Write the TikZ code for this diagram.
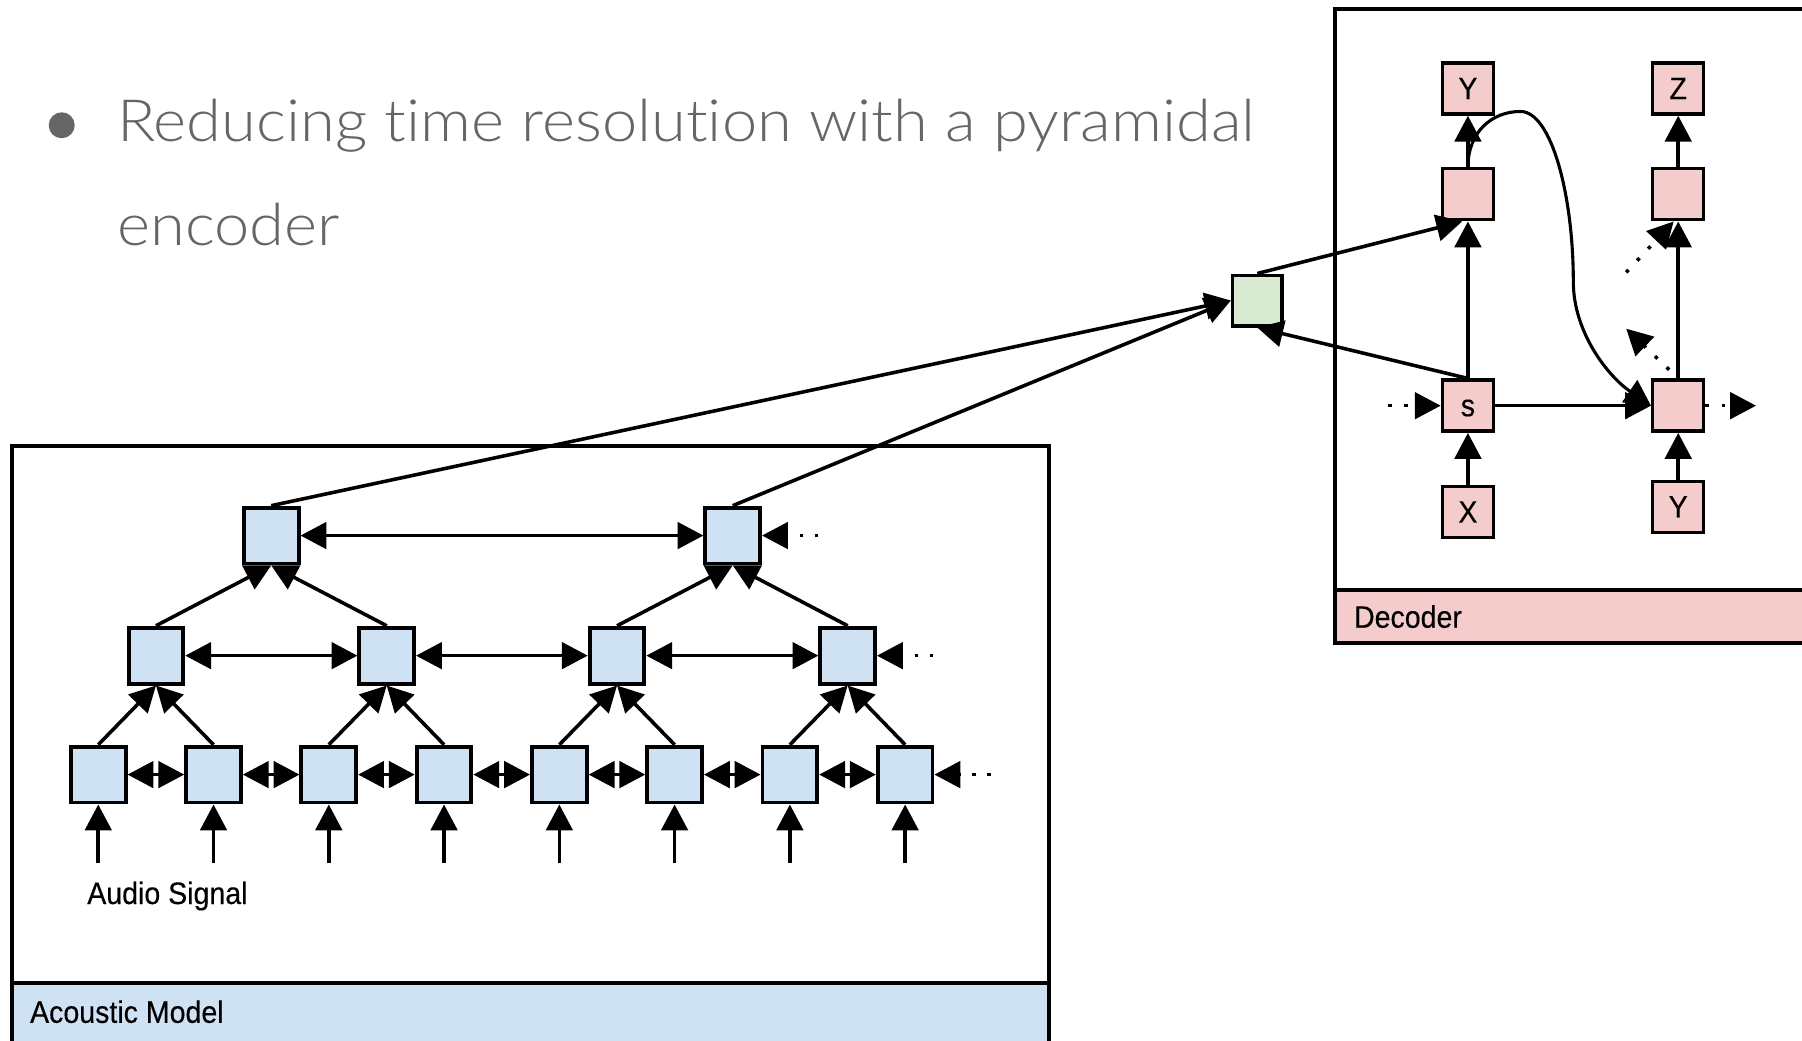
\documentclass[tikz,border=0pt]{standalone}
\usepackage{fontspec}
\usepackage{graphicx}
\usetikzlibrary{arrows.meta}

\definecolor{encblue}{HTML}{CFE2F3}
\definecolor{decpink}{HTML}{F4CCCC}
\definecolor{attgreen}{HTML}{D9EAD3}
\definecolor{titlegray}{HTML}{666666}

\IfFontExistsTF{Lato Light}
  {\newfontfamily\titlefont{Lato Light}[Ligatures=NoCommon]}
  {\newfontfamily\titlefont{Lato}[Ligatures=NoCommon]}
\newfontfamily\lblfont[FakeStretch=0.92,FakeBold=0.3]{Liberation Sans}

\begin{document}
\begin{tikzpicture}[x=1pt,y=-1pt,
  enc/.style={draw, line width=3.4pt, fill=encblue, minimum width=47.6pt, minimum height=48.6pt, inner sep=0pt},
  dec/.style={draw, line width=3pt, fill=decpink, minimum width=44.4pt, minimum height=44.4pt, inner sep=0pt,
              font=\lblfont\fontsize{27}{30}\selectfont},
  att/.style={draw, line width=3pt, fill=attgreen, minimum width=43pt, minimum height=44pt, inner sep=0pt},
  arr/.style={line width=3.1pt, -{Triangle[length=22.5pt,width=23pt]}},
  biarr/.style={line width=3.1pt, {Triangle[length=22.5pt,width=23pt]}-{Triangle[length=22.5pt,width=23pt]}},
  encdots/.style={arr, dash pattern=on 3pt off 10pt},
  decdots/.style={arr, dash pattern=on 3pt off 11pt},
  panel/.style={line width=3.4pt},
  lbl/.style={font=\lblfont\fontsize{27}{30}\selectfont, inner sep=0pt}
]
\clip (0,0) rectangle (1568,905);
\fill[white] (0,0) rectangle (1568,905);

% ---- heading ----
\fill[titlegray] (53.7,109) circle (11.3);
\node[anchor=base west, inner sep=0pt, text=titlegray] (title) at (102,123.3)
  {\titlefont\fontsize{50.7}{90.5}\selectfont\resizebox{990pt}{\height}{\begin{tabular}[t]{@{}l@{}}Reducing time resolution with a pyramidal\\encoder\end{tabular}}};

% ---- panels ----
\fill[encblue] (10.7,855.5) rectangle (912.5,930);
\draw[panel] (10.7,388.3) rectangle (912.5,930);
\draw[panel] (10.7,855.5) -- (912.5,855.5);
\node[lbl, anchor=base west] (amlabel) at (26,890) {Acoustic Model};

\fill[decpink] (1162,513.4) rectangle (1620,559.6);
\draw[panel] (1162,8.1) rectangle (1620,559.6);
\draw[panel] (1162,513.4) -- (1620,513.4);
\node[lbl, anchor=base west] (declabel) at (1178,546.2) {Decoder};

% ---- pyramidal encoder ----
\foreach \i/\x in {1/85.5,2/185.8,3/286.1,4/386.4,5/486.7,6/587,7/687.3,8/787.6} {
  \node[enc] (b\i) at (\x,674) {};
  \coordinate (in\i) at (\x,751);
}
\foreach \i/\x in {1/135.7,2/336.5,3/536.9,4/737.6}
  \node[enc] (m\i) at (\x,570.5) {};
\node[enc] (t1) at (236,466) {};
\node[enc] (t2) at (637.6,466) {};

\node[lbl, anchor=base] (audio) at (145.7,786.6) {Audio Signal};

\foreach \i in {1,...,8}
  \draw[arr] (in\i) -- (b\i.south);
\foreach \i/\j in {1/2,2/3,3/4,4/5,5/6,6/7,7/8}
  \draw[biarr] (b\i) -- (b\j);
\foreach \i/\j in {1/2,2/3,3/4}
  \draw[biarr] (m\i) -- (m\j);
\draw[biarr] (t1) -- (t2);

\foreach \p/\a/\b in {m1/b1/b2, m2/b3/b4, m3/b5/b6, m4/b7/b8, t1/m1/m2, t2/m3/m4} {
  \draw[arr] (\a.north) -- (\p.south);
  \draw[arr] (\b.north) -- (\p.south);
}

\coordinate (bdots) at (862,674);
\coordinate (mdots) at (812,570.5);
\coordinate (tdots) at (712,466);
\draw[encdots] (bdots) -- (b8.east);
\draw[encdots] (mdots) -- (m4.east);
\draw[encdots] (tdots) -- (t2.east);

% ---- attention ----
\node[att] (g) at (1094,261.5) {};

% ---- decoder ----
\node[dec] (Yt) at (1277.3,77) {Y};
\node[dec] (h1) at (1277.3,169) {};
\node[dec] (s)  at (1277.3,353) {\vphantom{X}s};
\node[dec] (X)  at (1277.3,445.5) {X};
\node[dec] (Z)  at (1460.3,77) {Z};
\node[dec] (h2) at (1460.3,169) {};
\node[dec] (h3) at (1460.3,353) {};
\node[dec] (Yb) at (1460.3,441) {Y};

\draw[arr] (t1.north) -- (g.west);
\draw[arr] (t2.north) -- (g.west);
\draw[arr] (g.north) -- ([xshift=-5pt]h1.south);
\draw[arr] (s.north) -- (g.south);

\draw[arr] (h1) -- (Yt);
\draw[arr] (s) -- (h1);
\draw[arr] (X) -- (s);
\draw[arr] (s) -- (h3);
\draw[arr] (Yb) -- (h3);
\draw[arr] (h3) -- (h2);
\draw[arr] (h2) -- (Z);

\draw[arr, line width=2.7pt] (h1.north) .. controls (1277.3,115) and (1298,97) .. (1323,97)
  .. controls (1350,97) and (1369,170) .. (1369,245)
  .. controls (1369,290) and (1400,328) .. (h3.west);

\coordinate (sin) at (1208,353);
\coordinate (hout) at (1528,353);
\coordinate (hup) at (1415,237);
\coordinate (hback) at (1415,286);
\draw[decdots] (sin) -- (s.west);
\draw[decdots] (h3.east) -- (hout);
\draw[decdots] (hup) -- ([xshift=-4pt]h2.south);
\draw[decdots, dash phase=3pt] (h3.north) -- (hback);
\end{tikzpicture}
\end{document}
